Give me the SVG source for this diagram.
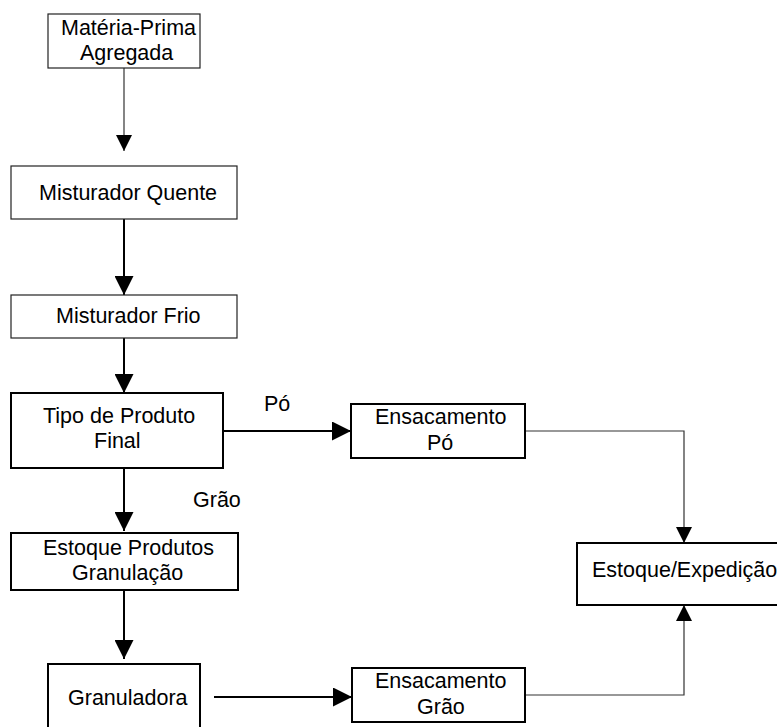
<svg xmlns="http://www.w3.org/2000/svg" width="777" height="727" viewBox="0 0 777 727">
<style>
  text { font-family: "Liberation Sans", Arial, sans-serif; font-size: 21.5px; fill: #000; }
  .thin { fill: #fff; stroke: #222; stroke-width: 1.2; }
  .thick { fill: #fff; stroke: #000; stroke-width: 2; }
  .lt { fill: none; stroke: #333; stroke-width: 1.2; }
  .lk { fill: none; stroke: #000; stroke-width: 2; }
</style>
<defs>
  <marker id="ah" viewBox="0 0 19 19" refX="19" refY="9.5" markerWidth="19" markerHeight="19" markerUnits="userSpaceOnUse" orient="auto">
    <path d="M0,0 L19,9.5 L0,19 z" fill="#000"/>
  </marker>
  <marker id="as" viewBox="0 0 16 16" refX="16" refY="8" markerWidth="16" markerHeight="16" markerUnits="userSpaceOnUse" orient="auto">
    <path d="M0,0 L16,8 L0,16 z" fill="#000"/>
  </marker>
</defs>
<rect width="777" height="727" fill="#fff"/>
<g id="connectors">
  <path class="lt" d="M124,68 V151" marker-end="url(#as)"/>
  <path class="lk" d="M124,219 V295" marker-end="url(#ah)"/>
  <path class="lk" d="M124,338 V393" marker-end="url(#ah)"/>
  <path class="lk" d="M223,431 H351" marker-end="url(#ah)"/>
  <path class="lt" d="M525,431 H684 V543" marker-end="url(#as)"/>
  <path class="lk" d="M124,468 V531" marker-end="url(#ah)"/>
  <path class="lk" d="M124,590 V659" marker-end="url(#ah)"/>
  <path class="lk" d="M214,697 H352" marker-end="url(#ah)"/>
  <path class="lt" d="M525,695 H684 V605" marker-end="url(#as)"/>
  <text x="264" y="411">Pó</text>
  <text x="193" y="507">Grão</text>
</g>
<g id="materia-prima">
  <rect class="thin" x="48" y="14" width="152" height="54"/>
  <text x="61" y="35">Matéria-Prima</text>
  <text x="80" y="60">Agregada</text>
</g>
<g id="misturador-quente">
  <rect class="thin" x="11" y="166" width="226" height="53"/>
  <text x="39" y="200">Misturador Quente</text>
</g>
<g id="misturador-frio">
  <rect class="thin" x="11" y="295" width="226" height="43"/>
  <text x="56" y="323">Misturador Frio</text>
</g>
<g id="tipo-produto">
  <rect class="thick" x="11" y="393" width="212" height="75"/>
  <text x="43" y="423">Tipo de Produto</text>
  <text x="94" y="448">Final</text>
</g>
<g id="ensacamento-po">
  <rect class="thick" x="351" y="404" width="174" height="54"/>
  <text x="375" y="424">Ensacamento</text>
  <text x="427" y="450">Pó</text>
</g>
<g id="estoque-produtos">
  <rect class="thick" x="11" y="533" width="227" height="57"/>
  <text x="43" y="555">Estoque Produtos</text>
  <text x="72" y="580">Granulação</text>
</g>
<g id="estoque-expedicao">
  <rect class="thick" x="577" y="543" width="220" height="62"/>
  <text x="592" y="577">Estoque/Expedição</text>
</g>
<g id="granuladora">
  <rect class="thick" x="48" y="664" width="152" height="80"/>
  <text x="68" y="705">Granuladora</text>
</g>
<g id="ensacamento-grao">
  <rect class="thick" x="352" y="668" width="173" height="54"/>
  <text x="375" y="688">Ensacamento</text>
  <text x="417" y="714">Grão</text>
</g>
</svg>
